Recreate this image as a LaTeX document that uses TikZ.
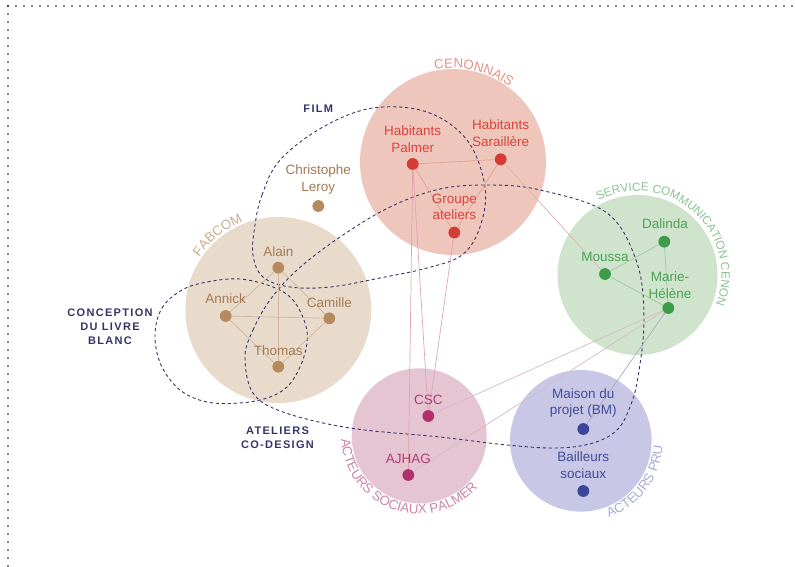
\documentclass[tikz,border=0pt]{standalone}
\usepackage{fontspec}
\setmainfont{Liberation Sans}
\newfontfamily\titlefont{Liberation Sans}[LetterSpace=12]
\usetikzlibrary{decorations.text,calc}
\definecolor{navy}{HTML}{35346A}
\definecolor{cenfill}{HTML}{EEC6BC}
\definecolor{centext}{HTML}{D8453C}
\definecolor{cendot}{HTML}{D33D36}
\definecolor{cenlab}{HTML}{E6917F}
\definecolor{cenline}{HTML}{E4A194}
\definecolor{fabfill}{HTML}{E9DBCC}
\definecolor{fabtext}{HTML}{A47A50}
\definecolor{fabdot}{HTML}{B68A5C}
\definecolor{fablab}{HTML}{C9AB8E}
\definecolor{fabline}{HTML}{CFB69C}
\definecolor{serfill}{HTML}{D0E4CD}
\definecolor{sertext}{HTML}{4AA255}
\definecolor{serdot}{HTML}{3D9B4A}
\definecolor{serlab}{HTML}{8CC293}
\definecolor{serline}{HTML}{9DC8A0}
\definecolor{socfill}{HTML}{E6C5D3}
\definecolor{soctext}{HTML}{B23C77}
\definecolor{socdot}{HTML}{B3306E}
\definecolor{soclab}{HTML}{CD84A8}
\definecolor{socline}{HTML}{DFA4AE}
\definecolor{prufill}{HTML}{C8C8E6}
\definecolor{prutext}{HTML}{434A98}
\definecolor{prudot}{HTML}{3C479B}
\definecolor{prulab}{HTML}{A9ACD8}
\definecolor{crossA}{HTML}{E0B4AB}
\definecolor{crossB}{HTML}{D6B9C8}
\definecolor{crossC}{HTML}{A9A9BF}
\newcommand\grpfont{\fontsize{13.3}{15}\selectfont}
\newcommand\serfont{\fontsize{11.8}{14}\selectfont}
\begin{document}
\begin{tikzpicture}[x=1pt,y=-1pt,
  group/.style={circle,inner sep=0pt,minimum size=#1,draw=none},
  member/.style={circle,inner sep=0pt,minimum size=11.8pt,fill=#1},
  lab/.style={font=\fontsize{13.5}{16.7}\selectfont,align=center,inner sep=0pt,text=#1},
  title/.style={font=\titlefont\bfseries\fontsize{11}{14}\selectfont,text=navy,align=center,inner sep=0pt},
  conn/.style={line width=0.7pt,draw=#1},
  cluster/.style={draw=navy,line width=0.9pt,dash pattern=on 3.2pt off 2.8pt},
  border/.style={line width=1.7pt,line cap=round,dash pattern=on 0pt off 8pt},
  arclabel/.style={decorate,decoration={text along path,text align=center,text color=#1}}
]
\useasboundingbox (0,0) rectangle (795,566);
% dotted border
\coordinate (bc) at (8,6);
\coordinate (br) at (795,6);
\coordinate (bb) at (8,566);
\draw[border] (bc) -- (br);
\draw[border] (bc) -- (bb);

% groups
\node[group=186pt,fill=cenfill] (cen) at (453,162) {};
\node[group=186pt,fill=fabfill] (fab) at (278.3,310) {};
\node[group=160pt,fill=serfill] (ser) at (637.5,275) {};
\node[group=135pt,fill=socfill] (soc) at (419.2,435.8) {};
\node[group=141.6pt,fill=prufill] (pru) at (580.8,440.8) {};

% dashed clusters
\draw[cluster] plot[smooth cycle,tension=0.6] coordinates {(245,357) (253,330) (270,300) (297,270) (340,237) (390,207) (440,189) (490,185) (540,190) (607,213) (637,263) (644,320) (638,377) (630,407) (617,430) (593,443) (557,448) (507,445) (440,437) (350,428) (283,412) (253,393)};
\draw[cluster] plot[smooth cycle,tension=0.6] coordinates {(255,225) (262,195) (280,160) (323,127) (373,108) (427,112) (467,140) (485,187) (480,227) (462,255) (427,268) (380,278) (330,287) (290,287) (263,277) (253,255)};
\draw[cluster] plot[smooth cycle,tension=0.6] coordinates {(155,335) (162,308) (182,290) (207,282) (240,279) (273,287) (293,300) (305,323) (307,343) (300,367) (287,387) (267,398) (240,403) (207,402) (180,390) (161,365)};

% members
\node[member=cendot] (pal) at (412.7,164) {};
\node[member=cendot] (sar) at (500.7,159.3) {};
\node[member=cendot] (gat) at (454.3,232.5) {};
\node[member=fabdot] (chr) at (318.3,206) {};
\node[member=fabdot] (ala) at (278.3,267.7) {};
\node[member=fabdot] (ann) at (225.7,316) {};
\node[member=fabdot] (cam) at (329.3,318.3) {};
\node[member=fabdot] (tho) at (278.3,366.7) {};
\node[member=serdot] (dal) at (664.3,241.7) {};
\node[member=serdot] (mou) at (605,274) {};
\node[member=serdot] (mar) at (668.3,308) {};
\node[member=socdot] (csc) at (428.3,416) {};
\node[member=socdot] (ajh) at (408.3,475) {};
\node[member=prudot] (mai) at (583.3,429) {};
\node[member=prudot] (bai) at (583.3,491) {};

% connectors
\draw[conn=cenline] (pal) -- (sar);
\draw[conn=cenline] (pal) -- (gat);
\draw[conn=cenline] (sar) -- (gat);
\draw[conn=crossA] (sar) -- (mou);
\draw[conn=socline] (pal) -- (csc);
\draw[conn=socline] (pal) -- (ajh);
\draw[conn=socline] (gat) -- (csc);
\draw[conn=fabline] (ala) -- (ann);
\draw[conn=fabline] (ala) -- (cam);
\draw[conn=fabline] (ala) -- (tho);
\draw[conn=fabline] (ann) -- (cam);
\draw[conn=fabline] (ann) -- (tho);
\draw[conn=fabline] (cam) -- (tho);
\draw[conn=serline] (mou) -- (dal);
\draw[conn=serline] (mou) -- (mar);
\draw[conn=serline] (dal) -- (mar);
\draw[conn=crossB] (mar) -- (csc);
\draw[conn=crossB] (mar) -- (ajh);
\draw[conn=crossC] (mar) -- (mai);

% member labels
\node[lab=centext] (lpal) at (412.7,139) {Habitants\\Palmer};
\node[lab=centext] (lsar) at (500.7,133.3) {Habitants\\Saraillère};
\node[lab=centext] (lgat) at (454.3,206.7) {Groupe\\ateliers};
\node[lab=fabtext] (lchr) at (318.3,179.6) {Christophe\\Leroy};
\node[lab=fabtext] (lala) at (278.3,251.7) {Alain};
\node[lab=fabtext] (lann) at (225.7,299) {Annick};
\node[lab=fabtext] (lcam) at (329.3,302.3) {Camille};
\node[lab=fabtext] (ltho) at (278.3,351) {Thomas};
\node[lab=sertext] (ldal) at (665,223.3) {Dalinda};
\node[lab=sertext] (lmou) at (605,256.7) {Moussa};
\node[lab=sertext] (lmar) at (670,285.3) {Marie-\\Hélène};
\node[lab=soctext] (lcsc) at (428.3,400) {CSC};
\node[lab=soctext] (lajh) at (408.3,459) {AJHAG};
\node[lab=prutext] (lmai) at (583.3,403) {Maison du\\projet (BM)};
\node[lab=prutext] (lbai) at (583.3,465.3) {Bailleurs\\sociaux};

% cluster titles
\node[title] (tfilm) at (318.3,108.3) {FILM};
\node[title] (tconc) at (110,326.5) {CONCEPTION\\DU LIVRE\\BLANC};
\node[title] (tatel) at (277.5,438) {ATELIERS\\CO-DESIGN};

% group names along the circles
\path[arclabel=cenlab,decoration={text={|\grpfont|CENONNAIS}}]
  ($(cen)+(-137:94)$) arc[start angle=-137,end angle=-17,radius=94];
\path[arclabel=fablab,decoration={text={|\grpfont|FABCOM}}]
  ($(fab)+(-189:95)$) arc[start angle=-189,end angle=-69,radius=95];
\path[arclabel=serlab,decoration={text={|\serfont|SERVICE COMMUNICATION CENON}}]
  ($(ser)+(-148.5:84)$) arc[start angle=-148.5,end angle=51.5,radius=84];
\path[arclabel=soclab,decoration={text={|\grpfont|ACTEURS SOCIAUX PALMER}}]
  ($(soc)+(-150.5:78)$) arc[start angle=-150.5,end angle=-350.5,radius=78];
\path[arclabel=prulab,decoration={text={|\grpfont|ACTEURS PRU}}]
  ($(pru)+(96.7:82)$) arc[start angle=96.7,end angle=-23.3,radius=82];
\end{tikzpicture}
\end{document}
